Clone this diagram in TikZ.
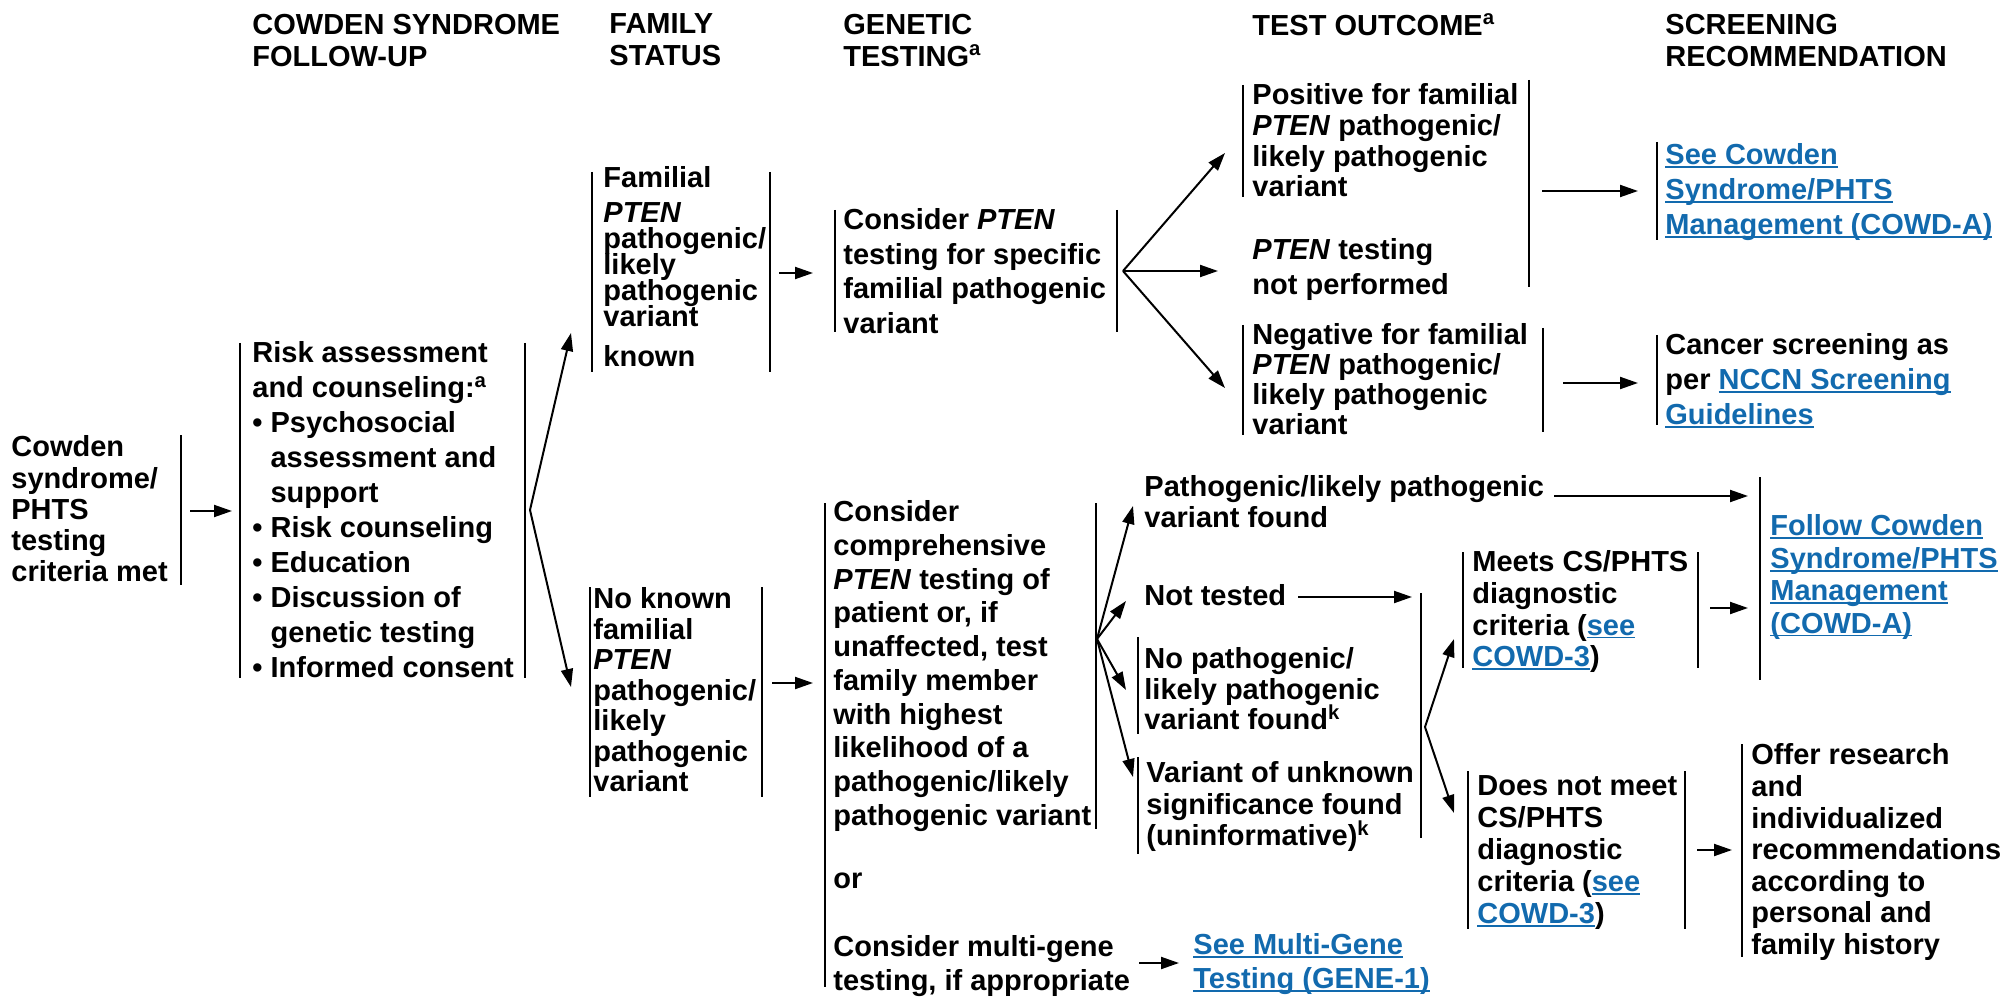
\documentclass[tikz,border=0pt]{standalone}
\usepackage{fontspec}
\setmainfont{Liberation Sans}
\usetikzlibrary{arrows.meta}
\definecolor{linkblue}{RGB}{18,106,174}
\newcommand{\lnk}[1]{\textcolor{linkblue}{\setbox0\hbox{#1}\rlap{\rule[-1.7pt]{\wd0}{0.9pt}}\box0}}
\begin{document}
\lineskiplimit=-50pt
\begin{tikzpicture}[x=0.5pt,y=-0.5pt,
  txt/.style={anchor=north west, yshift=10.8pt, inner sep=0pt, align=left,
    font=\fontsize{14.5}{#1}\selectfont\bfseries, execute at begin node={\rule{0pt}{10.8pt}}},
  txt/.default=17.5,
  brk/.style={line width=1.2pt},
  arr/.style={line width=1pt, -{Triangle[length=9pt,width=6pt]}}]
\useasboundingbox (0,0) rectangle (2003,1000);
% column headers
\node[txt=16] (hdCs) at (252,35) {COWDEN SYNDROME\\FOLLOW-UP};
\node[txt=16] (hdFam) at (609,35) {FAMILY\\STATUS};
\node[txt=16] (hdGen) at (843,35) {GENETIC\\TESTING\textsuperscript{a}};
\node[txt=16] (hdOut) at (1252,35) {TEST OUTCOME\textsuperscript{a}};
\node[txt=16] (hdScr) at (1665,35) {SCREENING\\RECOMMENDATION};
% follow-up
\node[txt=15.6] (cow) at (11,457) {Cowden\\syndrome/\\PHTS\\testing\\criteria met};
\draw[brk] (181,435) -- (181,585);
\coordinate (cowOut) at (190,511);
\coordinate (riskIn) at (232,511);
\draw[arr] (cowOut) -- (riskIn);
\node[txt=17.5] (risk) at (252,363) {Risk assessment\\and counseling:\textsuperscript{a}\\\textbullet\ Psychosocial\\\phantom{\textbullet\ }assessment and\\\phantom{\textbullet\ }support\\\textbullet\ Risk counseling\\\textbullet\ Education\\\textbullet\ Discussion of\\\phantom{\textbullet\ }genetic testing\\\textbullet\ Informed consent};
\draw[brk] (240,343) -- (240,678) (525,343) -- (525,678);
\coordinate (riskOut) at (530,510);
\coordinate (famIn) at (571,333);
\coordinate (noIn) at (571,687);
\draw[arr] (riskOut) -- (famIn);
\draw[arr] (riskOut) -- (noIn);
% family status
\node[txt=13] (fam) at (603,188) {Familial\\[4.5pt]\textit{PTEN}\\pathogenic/\\likely\\pathogenic\\variant\\[7pt]known};
\draw[brk] (592,172) -- (592,372) (770,172) -- (770,372);
\coordinate (famOut) at (779,273);
\coordinate (cptIn) at (813,273);
\draw[arr] (famOut) -- (cptIn);
\node[txt=15.25] (nokn) at (593,609) {No known\\familial\\\textit{PTEN}\\pathogenic/\\likely\\pathogenic\\variant};
\draw[brk] (590,587) -- (590,797) (762,587) -- (762,797);
\coordinate (noknOut) at (772,683);
\coordinate (ccIn) at (813,683);
\draw[arr] (noknOut) -- (ccIn);
% genetic testing, known variant
\node[txt=17.25] (cpt) at (843,230) {Consider \textit{PTEN}\\testing for specific\\familial pathogenic\\variant};
\draw[brk] (835,210) -- (835,332) (1117,210) -- (1117,332);
\coordinate (cptOut) at (1123,271);
\coordinate (posIn) at (1225,153);
\coordinate (npIn) at (1218,271);
\coordinate (negIn) at (1225,388);
\draw[arr] (cptOut) -- (posIn);
\draw[arr] (cptOut) -- (npIn);
\draw[arr] (cptOut) -- (negIn);
\node[txt=15.33] (pos) at (1252,105) {Positive for familial\\\textit{PTEN} pathogenic/\\likely pathogenic\\variant};
\node[txt=17.5] (nperf) at (1252,260) {\textit{PTEN} testing\\not performed};
\draw[brk] (1243,85) -- (1243,197) (1529,80) -- (1529,287);
\coordinate (posOut) at (1542,191);
\coordinate (seeIn) at (1638,191);
\draw[arr] (posOut) -- (seeIn);
\node[txt=17.5] (seeCs) at (1665,165) {\lnk{See Cowden}\\\lnk{Syndrome/PHTS}\\\lnk{Management (COWD-A)}};
\draw[brk] (1657,142) -- (1657,240);
\node[txt=15] (neg) at (1252,345) {Negative for familial\\\textit{PTEN} pathogenic/\\likely pathogenic\\variant};
\draw[brk] (1243,325) -- (1243,435) (1543,328) -- (1543,432);
\coordinate (negOut) at (1563,383);
\coordinate (canIn) at (1638,383);
\draw[arr] (negOut) -- (canIn);
\node[txt=17.5] (can) at (1665,355) {Cancer screening as\\per \lnk{NCCN Screening}\\\lnk{Guidelines}};
\draw[brk] (1657,335) -- (1657,425);
% genetic testing, no known variant
\node[txt=16.85] (cc) at (833,522) {Consider\\comprehensive\\\textit{PTEN} testing of\\patient or, if\\unaffected, test\\family member\\with highest\\likelihood of a\\pathogenic/likely\\pathogenic variant};
\node[txt] (orr) at (833,888) {or};
\node[txt=17] (mg) at (833,957) {Consider multi-gene\\testing, if appropriate};
\draw[brk] (825,503) -- (825,987) (1096,503) -- (1096,829);
\coordinate (ccOut) at (1097,639);
\coordinate (pfIn) at (1133,506);
\coordinate (ntIn) at (1126,601);
\coordinate (npfIn) at (1126,690);
\coordinate (vusIn) at (1133,777);
\draw[arr] (ccOut) -- (pfIn);
\draw[arr] (ccOut) -- (ntIn);
\draw[arr] (ccOut) -- (npfIn);
\draw[arr] (ccOut) -- (vusIn);
\coordinate (mgOut) at (1139,963);
\coordinate (seeMgIn) at (1179,963);
\draw[arr] (mgOut) -- (seeMgIn);
\node[txt=17] (seeMg) at (1193,955) {\lnk{See Multi-Gene}\\\lnk{Testing (GENE-1)}};
% outcomes, no known variant
\node[txt=15.5] (pf) at (1144,497) {Pathogenic/likely pathogenic\\variant found};
\coordinate (pfOut) at (1554,496);
\coordinate (folIn) at (1748,496);
\draw[arr] (pfOut) -- (folIn);
\node[txt] (nt) at (1144,605) {Not tested};
\coordinate (ntOut) at (1298,597);
\coordinate (grpIn) at (1412,597);
\draw[arr] (ntOut) -- (grpIn);
\node[txt=15.25] (npf) at (1144,669) {No pathogenic/\\likely pathogenic\\variant found\textsuperscript{k}};
\draw[brk] (1138,637) -- (1138,734);
\node[txt=15.75] (vus) at (1146,783) {Variant of unknown\\significance found\\(uninformative)\textsuperscript{k}};
\draw[brk] (1138,757) -- (1138,854);
\draw[brk] (1421,593) -- (1421,838);
\coordinate (grpOut) at (1425,727);
\coordinate (meetIn) at (1454,639);
\coordinate (dnmIn) at (1454,813);
\draw[arr] (grpOut) -- (meetIn);
\draw[arr] (grpOut) -- (dnmIn);
\node[txt=15.8] (meet) at (1472,572) {Meets CS/PHTS\\diagnostic\\criteria (\lnk{see}\\\lnk{COWD-3})};
\draw[brk] (1463,552) -- (1463,668) (1698,552) -- (1698,668);
\coordinate (meetOut) at (1710,608);
\coordinate (folIn2) at (1748,608);
\draw[arr] (meetOut) -- (folIn2);
\node[txt=16.2] (fol) at (1770,536) {\lnk{Follow Cowden}\\\lnk{Syndrome/PHTS}\\\lnk{Management}\\\lnk{(COWD-A)}};
\draw[brk] (1760,477) -- (1760,680);
\node[txt=16] (dnm) at (1477,797) {Does not meet\\CS/PHTS\\diagnostic\\criteria (\lnk{see}\\\lnk{COWD-3})};
\draw[brk] (1468,771) -- (1468,929) (1685,771) -- (1685,929);
\coordinate (dnmOut) at (1697,850);
\coordinate (offIn) at (1732,850);
\draw[arr] (dnmOut) -- (offIn);
\node[txt=15.8] (off) at (1751,765) {Offer research\\and\\individualized\\recommendations\\according to\\personal and\\family history};
\draw[brk] (1742,744) -- (1742,957);
\end{tikzpicture}
\end{document}
